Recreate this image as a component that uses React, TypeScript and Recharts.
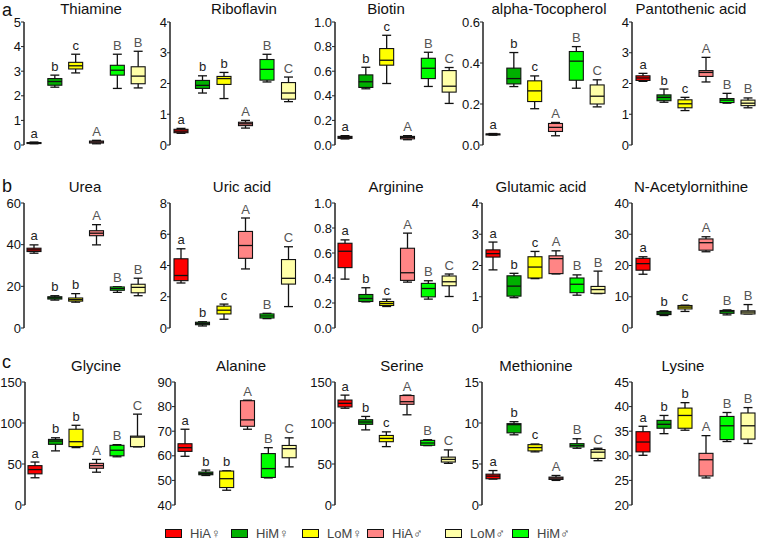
import React from "react";
import { ComposedChart, Bar, XAxis, YAxis } from "recharts";

// box order inside every panel
const groups = ["HiA♀", "HiM♀", "LoM♀", "HiA♂", "HiM♂", "LoM♂"];
const groupColors = ["#ff0000", "#00b000", "#ffff00", "#ff8585", "#00ff00", "#ffffa8"];
// legend is listed in a slightly different order than the boxes
const legendOrder = [0, 1, 2, 3, 5, 4];

// each row: [min, q1, median, q3, max]
const thiamine = [
  [0.05, 0.07, 0.08, 0.1, 0.12],
  [2.35, 2.43, 2.58, 2.7, 2.84],
  [2.93, 3.09, 3.22, 3.36, 3.69],
  [0.05, 0.08, 0.12, 0.16, 0.19],
  [2.3, 2.84, 3.04, 3.24, 3.69],
  [2.32, 2.49, 2.8, 3.18, 3.81],
];
const riboflavin = [
  [0.38, 0.4, 0.45, 0.51, 0.54],
  [1.69, 1.84, 1.94, 2.1, 2.25],
  [1.51, 1.97, 2.16, 2.23, 2.36],
  [0.55, 0.63, 0.69, 0.74, 0.8],
  [2.05, 2.11, 2.46, 2.78, 2.95],
  [1.41, 1.49, 1.69, 2.03, 2.21],
];
const biotin = [
  [0.049, 0.054, 0.062, 0.07, 0.076],
  [0.457, 0.468, 0.514, 0.57, 0.632],
  [0.5, 0.649, 0.689, 0.784, 0.892],
  [0.043, 0.05, 0.062, 0.07, 0.076],
  [0.476, 0.54, 0.624, 0.705, 0.754],
  [0.338, 0.43, 0.478, 0.605, 0.63],
];
const tocopherol = [
  [0.048, 0.05, 0.052, 0.054, 0.056],
  [0.285, 0.298, 0.324, 0.375, 0.451],
  [0.177, 0.212, 0.264, 0.313, 0.337],
  [0.045, 0.066, 0.086, 0.105, 0.11],
  [0.277, 0.316, 0.409, 0.456, 0.48],
  [0.186, 0.2, 0.238, 0.293, 0.318],
];
const pantothenic = [
  [2.07, 2.1, 2.18, 2.25, 2.33],
  [1.39, 1.44, 1.55, 1.63, 1.82],
  [1.12, 1.21, 1.34, 1.47, 1.55],
  [2.05, 2.23, 2.36, 2.42, 2.85],
  [1.36, 1.38, 1.46, 1.51, 1.68],
  [1.21, 1.28, 1.36, 1.46, 1.53],
];
const urea = [
  [35.9, 36.7, 37.5, 38.3, 39.9],
  [13.4, 13.9, 14.5, 15.0, 15.5],
  [12.4, 12.9, 13.6, 14.4, 16.5],
  [39.9, 44.3, 45.5, 46.7, 49.6],
  [17.1, 18.1, 18.9, 19.7, 19.8],
  [15.5, 16.9, 19.5, 21.0, 23.9],
];
const uricAcid = [
  [2.88, 3.03, 3.36, 4.43, 5.07],
  [0.13, 0.21, 0.28, 0.37, 0.4],
  [0.56, 0.9, 1.14, 1.4, 1.53],
  [3.78, 4.46, 5.28, 6.18, 7.04],
  [0.6, 0.64, 0.77, 0.9, 0.94],
  [1.37, 2.81, 3.18, 4.38, 5.2],
];
const arginine = [
  [0.391, 0.483, 0.614, 0.678, 0.705],
  [0.209, 0.212, 0.236, 0.268, 0.322],
  [0.172, 0.18, 0.196, 0.212, 0.231],
  [0.367, 0.381, 0.442, 0.638, 0.759],
  [0.231, 0.249, 0.316, 0.357, 0.378],
  [0.252, 0.338, 0.37, 0.416, 0.432],
];
const glutamic = [
  [1.86, 2.27, 2.38, 2.5, 2.75],
  [0.97, 1.02, 1.34, 1.67, 1.75],
  [1.58, 1.6, 1.95, 2.28, 2.45],
  [1.73, 1.74, 2.22, 2.31, 2.47],
  [1.05, 1.13, 1.4, 1.6, 1.7],
  [1.1, 1.11, 1.23, 1.33, 1.82],
];
const acetylornithine = [
  [17.2, 18.5, 20.6, 22.3, 22.8],
  [4.0, 4.3, 4.8, 5.3, 5.5],
  [5.3, 6.1, 6.7, 7.2, 7.3],
  [24.4, 24.9, 27.3, 28.5, 29.2],
  [4.2, 4.7, 5.2, 5.6, 5.8],
  [4.5, 4.5, 5.1, 5.5, 7.5],
];
const glycine = [
  [33.2, 38, 43.2, 48, 52.4],
  [66, 74, 78, 80, 82],
  [70, 71.2, 77.2, 92.4, 97.2],
  [40, 44.8, 48, 50.8, 55.6],
  [58.8, 60, 66.8, 72.8, 73.6],
  [70.8, 71.2, 82.8, 84, 110.8],
];
const alanine = [
  [59.8, 61.8, 63.3, 64.9, 70.8],
  [52.0, 52.3, 52.8, 53.4, 54.2],
  [46.0, 47.1, 50.7, 53.8, 53.9],
  [70.8, 72.0, 74.6, 82.4, 82.6],
  [51.0, 51.2, 54.8, 60.9, 63.3],
  [55.5, 59.2, 62.9, 64.2, 67.3],
];
const serine = [
  [118, 119.6, 124, 128, 134],
  [91.6, 98.4, 101.2, 104, 108],
  [71.2, 77.2, 81.2, 84.8, 89.2],
  [110, 122.8, 126, 133.5, 134],
  [72.4, 72.8, 75.6, 78.8, 79.6],
  [50.8, 52.4, 55.6, 58.4, 67.2],
];
const methionine = [
  [3.16, 3.2, 3.52, 3.76, 4.2],
  [8.56, 8.8, 9.8, 9.92, 10.16],
  [6.48, 6.6, 7.0, 7.36, 7.44],
  [3.0, 3.12, 3.28, 3.4, 3.6],
  [6.92, 7.08, 7.28, 7.48, 8.08],
  [5.4, 5.68, 6.44, 6.76, 6.92],
];
const lysine = [
  [30.1, 30.8, 32.8, 34.9, 36.0],
  [34.5, 35.6, 36.4, 37.2, 38.2],
  [35.2, 35.6, 38.2, 39.7, 40.8],
  [25.5, 25.9, 29.2, 30.5, 34.1],
  [32.9, 33.3, 36.1, 38.0, 38.8],
  [32.5, 33.4, 36.1, 38.7, 39.8],
];

// significance letters
const lettersABC = ["a", "b", "c", "A", "B", "C"];
const lettersABB = ["a", "b", "c", "A", "B", "B"];
const lettersBBB = ["a", "b", "b", "A", "B", "B"];
const lettersBBC = ["a", "b", "b", "A", "B", "C"];

// y tick labels
const ticks0to5 = ["0", "1", "2", "3", "4", "5"];
const ticks0to4 = ["0", "1", "2", "3", "4"];
const ticksFrac10 = ["0.0", "0.2", "0.4", "0.6", "0.8", "1.0"];
const ticksFrac06 = ["0.0", "0.2", "0.4", "0.6"];
const ticks0to60 = ["0", "20", "40", "60"];
const ticks0to8 = ["0", "2", "4", "6", "8"];
const ticks0to40 = ["0", "10", "20", "30", "40"];
const ticks0to150 = ["0", "50", "100", "150"];
const ticks40to90 = ["40", "50", "60", "70", "80", "90"];
const ticks0to15 = ["0", "5", "10", "15"];
const ticks20to45 = ["20", "25", "30", "35", "40", "45"];

// plot area [x0, x1, y0, y1] and title centre for each panel
const panels = [
  { title: "Thiamine", stats: thiamine, letters: ["a", "b", "c", "A", "B", "B"], ticks: ticks0to5, box: [24, 149, 22, 145], tx: 91 },
  { title: "Riboflavin", stats: riboflavin, letters: ["a", "b", "b", "A", "B", "C"], ticks: ticks0to4, box: [170, 299, 22, 145], tx: 244 },
  { title: "Biotin", stats: biotin, letters: lettersABC, ticks: ticksFrac10, box: [335, 460, 22, 145], tx: 386 },
  { title: "alpha-Tocopherol", stats: tocopherol, letters: lettersABC, ticks: ticksFrac06, box: [483, 608, 22, 145], tx: 549 },
  { title: "Pantothenic acid", stats: pantothenic, letters: lettersABB, ticks: ticks0to4, box: [632, 758, 22, 145], tx: 691 },
  { title: "Urea", stats: urea, letters: lettersBBB, ticks: ticks0to60, box: [24, 149, 203, 328], tx: 85 },
  { title: "Uric acid", stats: uricAcid, letters: lettersABC, ticks: ticks0to8, box: [170, 299, 203, 328], tx: 242 },
  { title: "Arginine", stats: arginine, letters: lettersABC, ticks: ticksFrac10, box: [335, 460, 203, 328], tx: 396 },
  { title: "Glutamic acid", stats: glutamic, letters: lettersABB, ticks: ticks0to4, box: [482, 608, 203, 328], tx: 541 },
  { title: "N-Acetylornithine", stats: acetylornithine, letters: lettersABB, ticks: ticks0to40, box: [632, 758, 203, 328], tx: 691 },
  { title: "Glycine", stats: glycine, letters: lettersBBC, ticks: ticks0to150, box: [25, 148, 382, 505], tx: 96 },
  { title: "Alanine", stats: alanine, letters: lettersBBC, ticks: ticks40to90, box: [175, 300, 382, 505], tx: 241 },
  { title: "Serine", stats: serine, letters: lettersABC, ticks: ticks0to150, box: [335, 459, 382, 505], tx: 402 },
  { title: "Methionine", stats: methionine, letters: lettersABC, ticks: ticks0to15, box: [482, 608, 382, 505], tx: 536 },
  { title: "Lysine", stats: lysine, letters: lettersBBB, ticks: ticks20to45, box: [632, 758, 382, 505], tx: 683 },
];

// row letters: top of the text box (18px font)
const rowLetters = [
  { label: "a", top: 0 },
  { label: "b", top: 176 },
  { label: "c", top: 352 },
];
// top of each title row's text box (15px font)
const titleTops = [0, 178, 357];
const legendX = [165, 231, 302, 367, 445, 512];

const YW = 30;
const MT = 8;
const MR = 2;
const MB = 8;
const FONT = "'Liberation Sans', Arial, sans-serif";
const AXIS = "#222";

function BoxShape(props: any) {
  const { x, y, width, height, payload } = props;
  const [lo, q1, med, q3, hi] = payload.stats;
  // bar spans [min, max]; map the other stats through the same scale
  const top = Math.min(y, y + height);
  const bottom = Math.max(y, y + height);
  const px = (v: number) => bottom - ((v - lo) / (hi - lo)) * (bottom - top);
  const cx = x + width / 2;
  const cap = width * 0.32;
  const boxTop = px(q3);
  const boxH = Math.max(px(q1) - boxTop, 1);
  const upper = payload.letter === payload.letter.toUpperCase();
  return (
    <g>
      <line x1={cx} x2={cx} y1={px(hi)} y2={px(lo)} stroke="#111" strokeWidth={1.3} />
      <line x1={cx - cap} x2={cx + cap} y1={px(hi)} y2={px(hi)} stroke="#111" strokeWidth={1.3} />
      <line x1={cx - cap} x2={cx + cap} y1={px(lo)} y2={px(lo)} stroke="#111" strokeWidth={1.3} />
      <rect x={x} y={boxTop} width={width} height={boxH} fill={payload.color} stroke="#111" strokeWidth={1.1} />
      <line x1={x} x2={x + width} y1={px(med)} y2={px(med)} stroke="#111" strokeWidth={1.3} />
      <text
        x={cx}
        y={px(hi) - 4.5}
        textAnchor="middle"
        fontSize={13}
        fontWeight="normal"
        fontFamily={FONT}
        stroke="none"
        fill={upper ? "#555" : "#222"}
      >
        {payload.letter}
      </text>
    </g>
  );
}

function YTick(props: any) {
  const { x, y, payload, labels, values } = props;
  const idx = values.indexOf(payload.value);
  return (
    <text
      x={x}
      y={y}
      dy={4.5}
      textAnchor="end"
      fontSize={13}
      fontFamily={FONT}
      fill="#111"
      stroke="none"
    >
      {idx >= 0 ? labels[idx] : String(payload.value)}
    </text>
  );
}

function Panel({ p }: { p: (typeof panels)[number] }) {
  const [x0, x1, y0, y1] = p.box;
  const ticks = p.ticks.map(Number);
  const domain = [ticks[0], ticks[ticks.length - 1]];
  const data = groups.map((g, i) => ({
    name: g,
    range: [p.stats[i][0], p.stats[i][4]],
    stats: p.stats[i],
    color: groupColors[i],
    letter: p.letters[i],
  }));

  return (
    <div style={{ position: "absolute", left: x0 - YW, top: y0 - MT }}>
      <ComposedChart
        width={YW + (x1 - x0) + MR}
        height={MT + (y1 - y0) + MB}
        data={data}
        margin={{ top: MT, right: MR, bottom: MB, left: 0 }}
      >
        <XAxis
          dataKey="name"
          height={0}
          interval={0}
          tickFormatter={() => ""}
          tickSize={-3}
          axisLine={{ stroke: AXIS, strokeWidth: 1.5 }}
          tickLine={{ stroke: AXIS }}
        />
        <XAxis
          xAxisId="top"
          orientation="top"
          dataKey="name"
          height={0}
          tick={false}
          tickLine={false}
          axisLine={{ stroke: "#333", strokeWidth: 1.3 }}
        />
        <YAxis
          width={YW}
          type="number"
          domain={domain}
          ticks={ticks}
          interval={0}
          tickSize={3}
          tickMargin={0}
          tick={<YTick labels={p.ticks} values={ticks} />}
          axisLine={{ stroke: AXIS, strokeWidth: 1.5 }}
          tickLine={{ stroke: AXIS }}
        />
        <YAxis
          yAxisId="right"
          orientation="right"
          width={0}
          type="number"
          domain={domain}
          tick={false}
          tickLine={false}
          axisLine={{ stroke: "#333", strokeWidth: 1.3 }}
        />
        <Bar dataKey="range" barSize={14} shape={BoxShape} isAnimationActive={false} />
      </ComposedChart>
    </div>
  );
}

export default function App() {
  return (
    <div
      style={{
        position: "absolute",
        left: 0,
        top: 0,
        width: 760,
        height: 543,
        background: "#fff",
        fontFamily: FONT,
        color: "#111",
        overflow: "hidden",
      }}
    >
      {rowLetters.map((r) => (
        <div key={r.label} style={{ position: "absolute", left: 2, top: r.top, fontSize: 18 }}>
          {r.label}
        </div>
      ))}

      {panels.map((p, i) => (
        <div
          key={p.title}
          style={{
            position: "absolute",
            left: p.tx - 80,
            width: 160,
            top: titleTops[Math.floor(i / 5)],
            textAlign: "center",
            fontSize: 15,
            color: "#111",
          }}
        >
          {p.title}
        </div>
      ))}

      {panels.map((p) => (
        <Panel key={p.title} p={p} />
      ))}

      {/* Legend */}
      {legendOrder.map((gi, k) => (
        <div
          key={groups[gi]}
          style={{
            position: "absolute",
            left: legendX[k],
            top: 525,
            display: "flex",
            alignItems: "center",
            gap: 8,
            fontSize: 13,
            color: "#444",
            height: 16,
          }}
        >
          <div
            style={{
              width: 15,
              height: 7,
              background: groupColors[gi],
              border: "1px solid #111",
            }}
          />
          <span>{groups[gi]}</span>
        </div>
      ))}
    </div>
  );
}
